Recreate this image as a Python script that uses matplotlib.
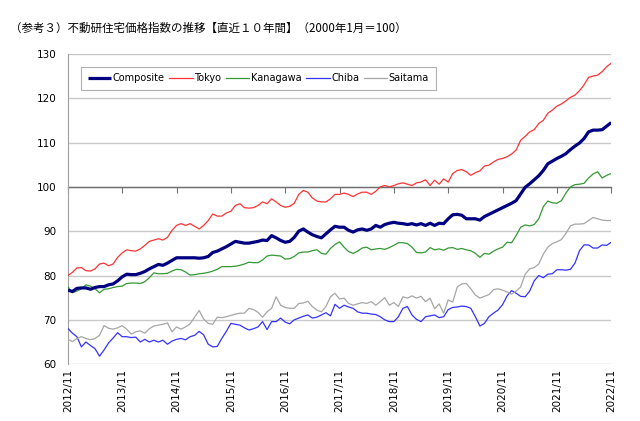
import numpy as np
import matplotlib
matplotlib.use("Agg")
import matplotlib.pyplot as plt
import matplotlib.transforms as mtransforms

# Monthly index values, 2012/11 .. 2022/11 (2000/1 = 100)
composite = [
    76.7, 76.4, 77.1, 77.2, 77.2, 76.9, 77.3, 77.5, 77.5, 77.9, 78.1, 78.8,
    79.7, 80.3, 80.2, 80.2, 80.5, 80.9, 81.5, 82.0, 82.5, 82.3, 82.8, 83.4,
    84.0, 84.0, 84.0, 84.0, 84.0, 83.9, 84.0, 84.3, 85.2, 85.5, 86.0, 86.5,
    87.1, 87.7, 87.5, 87.3, 87.3, 87.5, 87.7, 88.0, 87.9, 89.0, 88.5, 87.9,
    87.5, 87.7, 88.6, 90.0, 90.5, 89.8, 89.2, 88.8, 88.5, 89.4, 90.3, 91.1,
    90.9, 90.9, 90.2, 89.8, 90.3, 90.5, 90.2, 90.5, 91.3, 90.9, 91.5, 91.8,
    92.0, 91.8, 91.7, 91.5, 91.7, 91.4, 91.7, 91.3, 91.8, 91.3, 91.8, 91.7,
    92.8, 93.7, 93.8, 93.6, 92.8, 92.8, 92.8, 92.5, 93.3, 93.8, 94.3, 94.8,
    95.3, 95.8, 96.3, 96.9, 98.4, 99.9, 100.7, 101.6, 102.5, 103.7, 105.2, 105.8,
    106.4, 106.9, 107.5, 108.4, 109.2, 109.9, 110.9, 112.4, 112.8, 112.8, 112.9, 113.7,
    114.5,
]
tokyo = [
    80.0, 80.7, 81.7, 81.8, 81.1, 81.0, 81.5, 82.6, 82.8, 82.2, 82.6, 84.1,
    85.1, 85.8, 85.6, 85.5, 86.0, 86.8, 87.7, 88.0, 88.3, 88.0, 88.6, 90.2,
    91.3, 91.7, 91.3, 91.7, 91.1, 90.5, 91.3, 92.4, 93.9, 93.4, 93.4, 94.1,
    94.5, 95.8, 96.2, 95.3, 95.2, 95.3, 95.8, 96.6, 96.2, 97.3, 96.6, 95.8,
    95.4, 95.6, 96.3, 98.3, 99.2, 98.8, 97.5, 96.8, 96.6, 96.6, 97.3, 98.3,
    98.3, 98.6, 98.3, 97.8, 98.4, 98.8, 98.8, 98.3, 99.0, 100.0, 100.3, 100.0,
    100.3, 100.7, 100.9, 100.6, 100.3, 100.9, 101.1, 101.6, 100.3, 101.5, 100.6, 101.8,
    101.1, 103.0, 103.7, 103.9, 103.4, 102.6, 103.2, 103.6, 104.7, 104.9, 105.6, 106.2,
    106.4, 106.8, 107.4, 108.3, 110.5, 111.4, 112.4, 112.9, 114.3, 115.0, 116.6, 117.3,
    118.2, 118.7, 119.4, 120.2, 120.7, 121.7, 123.0, 124.7, 125.0, 125.2, 126.0, 127.1,
    127.9,
]
kanagawa = [
    77.5, 76.1, 76.5, 77.0, 77.9, 77.6, 77.0, 76.1, 76.9, 77.0, 77.3, 77.5,
    77.6, 78.2, 78.3, 78.3, 78.2, 78.6, 79.5, 80.6, 80.4, 80.4, 80.5, 81.0,
    81.4, 81.3, 80.8, 80.1, 80.2, 80.4, 80.5, 80.7, 81.0, 81.4, 82.0, 82.0,
    82.0, 82.1, 82.3, 82.6, 83.0, 82.9, 82.9, 83.5, 84.4, 84.6, 84.5, 84.4,
    83.7, 83.8, 84.3, 85.1, 85.3, 85.3, 85.6, 85.8, 85.0, 84.8, 86.1, 87.0,
    87.6, 86.4, 85.4, 85.0, 85.5, 86.2, 86.4, 85.8, 86.0, 86.1, 85.9, 86.3,
    86.8, 87.4, 87.4, 87.2, 86.4, 85.2, 85.1, 85.3, 86.3, 85.8, 86.0, 85.7,
    86.2, 86.3, 85.9, 86.1, 85.8, 85.6, 85.0, 84.1, 85.0, 84.8, 85.5, 86.0,
    86.4, 87.5, 87.4, 89.0, 90.9, 91.4, 91.2, 91.5, 92.8, 95.5, 96.8, 96.4,
    96.3, 96.9, 98.6, 100.0, 100.5, 100.6, 100.8, 102.0, 102.9, 103.4, 102.0, 102.6,
    103.0,
]
chiba = [
    68.1, 67.0, 66.2, 63.9, 65.0, 64.2, 63.5, 61.8, 63.2, 64.8, 65.9, 67.1,
    66.2, 66.2, 66.0, 66.1, 65.0, 65.6, 65.0, 65.4, 65.0, 65.4, 64.5, 65.2,
    65.6, 65.8, 65.5, 66.2, 66.5, 67.4, 66.6, 64.5, 63.9, 64.0, 65.8, 67.4,
    69.2, 69.0, 68.8, 68.2, 67.7, 68.0, 68.4, 69.6, 67.8, 69.6, 69.6, 70.4,
    69.5, 69.1, 70.0, 70.4, 70.8, 71.1, 70.4, 70.6, 71.1, 71.6, 70.9, 73.5,
    72.6, 73.3, 72.9, 72.6, 71.8, 71.5, 71.5, 71.3, 71.2, 70.7, 70.0, 69.6,
    69.6, 70.7, 72.6, 73.0, 71.1, 70.1, 69.6, 70.7, 70.9, 71.1, 70.5, 70.7,
    72.3, 72.8, 72.9, 73.1, 73.0, 72.6, 70.7, 68.6, 69.2, 70.7, 71.5, 72.2,
    73.4, 75.4, 76.6, 76.0, 75.3, 75.2, 76.5, 78.8, 80.0, 79.5, 80.3, 80.4,
    81.3, 81.3, 81.2, 81.4, 82.8, 85.6, 86.9, 86.9, 86.2, 86.2, 86.9, 86.8,
    87.5,
]
saitama = [
    65.6, 65.1, 65.8, 66.2, 65.8, 65.5, 65.8, 66.5, 68.7, 68.1, 67.9, 68.2,
    68.7, 67.9, 66.8, 67.3, 67.5, 67.0, 68.0, 68.6, 68.8, 69.0, 69.3, 67.3,
    68.4, 67.9, 68.4, 69.1, 70.6, 72.1, 70.2, 69.2, 69.0, 70.6, 70.5, 70.7,
    71.0, 71.3, 71.5, 71.5, 72.6, 72.3, 71.7, 70.6, 71.8, 72.6, 75.2, 73.3,
    72.8, 72.6, 72.6, 73.7, 73.8, 74.2, 73.0, 72.2, 71.8, 73.0, 75.2, 76.0,
    74.7, 74.9, 73.7, 73.3, 73.6, 73.9, 73.7, 74.1, 73.3, 74.1, 75.0, 73.3,
    73.9, 73.0, 75.2, 74.9, 75.4, 74.9, 75.3, 74.1, 74.9, 72.5, 73.6, 71.5,
    74.5, 74.0, 77.4, 78.1, 78.2, 77.0, 75.6, 74.9, 75.3, 75.7, 76.8, 77.0,
    76.7, 76.3, 75.8, 76.5, 77.4, 80.3, 81.5, 81.8, 82.6, 84.8, 86.4, 87.2,
    87.6, 88.1, 89.5, 91.2, 91.6, 91.6, 91.7, 92.4, 93.1, 92.8, 92.5, 92.4,
    92.4,
]
tick_labels = ["2012/11", "2013/11", "2014/11", "2015/11", "2016/11", "2017/11",
               "2018/11", "2019/11", "2020/11", "2021/11", "2022/11"]
y_ticks = [60, 70, 80, 90, 100, 110, 120, 130]

months = np.arange(len(composite))
tick_pos = np.arange(0, len(composite), 12)

fig = plt.figure(figsize=(6.4, 4.21), dpi=100)
ax = fig.add_axes([0.106, 0.135, 0.849, 0.737])

series = [
    ("Composite", composite, "#000080", 2.3),
    ("Tokyo", tokyo, "#FF3333", 0.9),
    ("Kanagawa", kanagawa, "#339933", 0.9),
    ("Chiba", chiba, "#3333FF", 0.9),
    ("Saitama", saitama, "#A6A6A6", 0.9),
]
# draw thin lines first, composite on top
for name, vals, col, lw in series[1:]:
    ax.plot(months, vals, color=col, lw=lw, label=name, zorder=3)
ax.plot(months, composite, color=series[0][2], lw=series[0][3],
        label=series[0][0], zorder=4, solid_capstyle="butt")

ax.set_xlim(0, months[-1])
ax.set_ylim(60, 130)
ax.set_yticks(y_ticks)
ax.tick_params(axis="y", length=0, labelsize=7.5, pad=8)
for y in y_ticks:
    ax.axhline(y, color="#C8C8C8", lw=1.0, zorder=1)

# horizontal axis crosses at 100, labels stay at the bottom
ax.spines["bottom"].set_position(("data", 100))
ax.spines["bottom"].set_color("#707070")
ax.spines["bottom"].set_linewidth(1.0)
ax.spines["bottom"].set_zorder(2)
ax.set_xticks(tick_pos)
ax.tick_params(axis="x", direction="out", length=4, color="#707070",
               labelbottom=False)
trans = mtransforms.blended_transform_factory(ax.transData, ax.transAxes)
for p, lab in zip(tick_pos, tick_labels):
    ax.text(p, -0.015, lab, transform=trans, rotation=90, ha="center",
            va="top", fontsize=7.5)

ax.spines["left"].set_color("#A0A0A0")
ax.spines["top"].set_visible(False)
ax.spines["right"].set_visible(False)

handles, labels = ax.get_legend_handles_labels()
order = [4, 0, 1, 2, 3]
leg = ax.legend([handles[i] for i in order], [labels[i] for i in order],
                loc="upper left", bbox_to_anchor=(0.015, 0.975), ncol=5,
                fontsize=7.0, frameon=True, fancybox=False,
                edgecolor="#B0B0B0", framealpha=1, handlelength=2.4,
                handletextpad=0.15, columnspacing=0.5, borderpad=0.7)
leg.get_frame().set_linewidth(0.8)

fig.text(0.016, 0.933,
         "（参考３）不動研住宅価格指数の推移【直近１０年間】（2000年1月＝100）",
         fontsize=8.3, va="center", ha="left",
         family=["Noto Sans CJK JP", "DejaVu Sans"])

fig.savefig("out.png", dpi=100)
